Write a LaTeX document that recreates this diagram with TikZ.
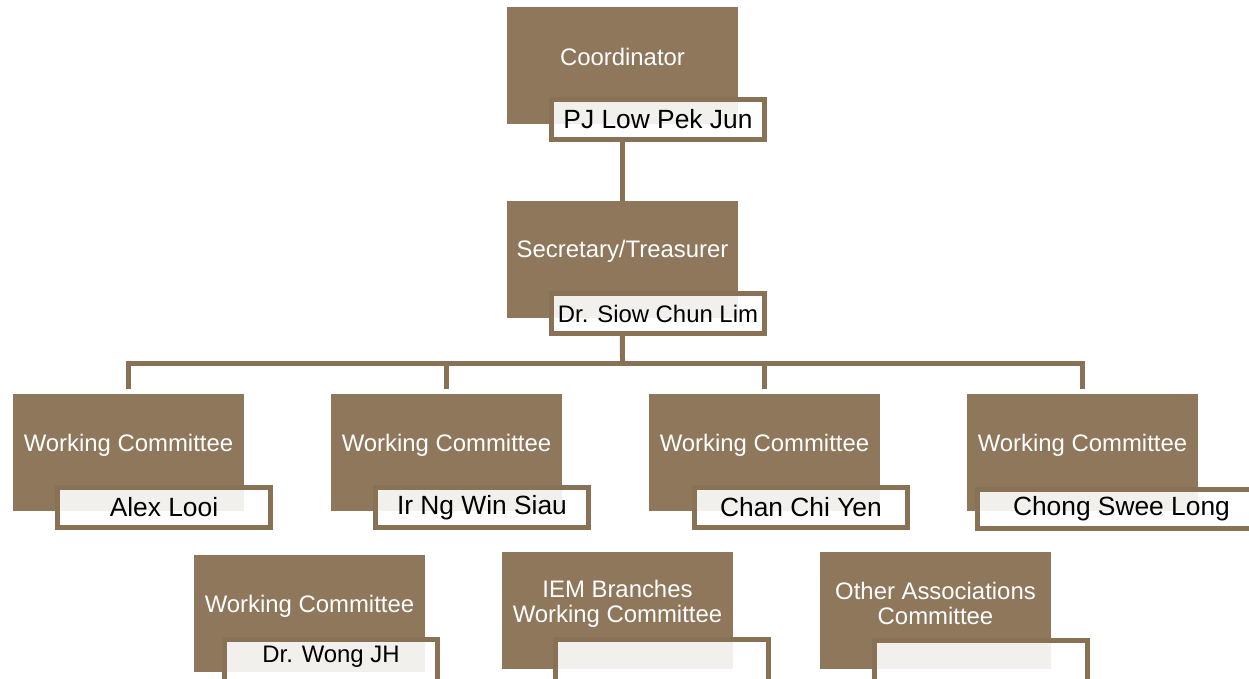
\documentclass[tikz,border=0pt]{standalone}
\usepackage{fontspec}
\setmainfont{Liberation Sans}

\definecolor{boxbrown}{RGB}{143,119,91}
\definecolor{linebrown}{RGB}{136,113,85}
\definecolor{paper}{RGB}{242,240,236}

\tikzset{
  unit/.style={fill=boxbrown, anchor=north west, minimum width=4.62cm, minimum height=2.34cm, inner sep=0, outer sep=0},
  head/.style={text=white, font=\fontsize{13.6}{14.2}\selectfont, align=center, inner sep=0},
  tag/.style={draw=linebrown, line width=0.1cm, fill=white, anchor=north west, minimum width=4.26cm, minimum height=0.8cm, inner sep=0, outer sep=0, font=\fontsize{15}{17}\selectfont,
    path picture={\fill[paper] (path picture bounding box.north west) rectangle (#1.south east);}},
  small/.style={font=\fontsize{13.6}{15}\selectfont},
  link/.style={draw=linebrown, line width=0.1cm},
}

\begin{document}
\begin{tikzpicture}[x=0.02cm, y=-0.02cm]
\useasboundingbox (0,0) rectangle (1249,679);

% top
\node[unit] at (507,7) (coord) {};
\node[head] at (622.5,57) (coordT) {Coordinator};
\node[tag=coord] at (551.5,99.5) (coordN) {PJ Low Pek Jun};

\node[unit] at (507,201) (sec) {};
\node[head] at (622.5,251) (secT) {Secretary/Treasurer};
\node[tag=sec, small] at (551.5,293.5) (secN) {Dr. Siow Chun Lim};

% working committees
\node[unit] at (13,394) (wc1) {};
\node[head] at (128.5,445) (wc1T) {Working Committee};
\node[tag=wc1] at (57.5,487.5) (wc1N) {Alex Looi};

\node[unit] at (331,394) (wc2) {};
\node[head] at (446.5,445) (wc2T) {Working Committee};
\node[tag=wc2] at (375.5,487.5) (wc2N) {Ir Ng Win Siau};

\node[unit] at (649,394) (wc3) {};
\node[head] at (764.5,445) (wc3T) {Working Committee};
\node[tag=wc3] at (694.5,487.5) (wc3N) {Chan Chi Yen};

\node[unit] at (967,394) (wc4) {};
\node[head] at (1082.5,445) (wc4T) {Working Committee};
\node[tag=wc4, minimum width=5.76cm] at (977.5,489) (wc4N) {Chong Swee Long};

% bottom row (cut off at the lower edge)
\node[unit] at (194,555) (wong) {};
\node[head] at (309.5,606) (wongT) {Working Committee};
\node[tag=wong, small, minimum height=0.9cm, text depth=8.5pt] at (224.5,639.5) (wongN) {Dr. Wong JH};

\node[unit] at (502,552) (iem) {};
\node[head] at (617.5,603.5) (iemT) {IEM Branches\\Working Committee};
\node[tag=iem, minimum height=0.9cm] at (555.5,639.5) (iemN) {};

\node[unit] at (820,552) (other) {};
\node[head] at (935.5,603.5) (otherT) {Other Associations\\Committee};
\node[tag=other, minimum height=0.9cm] at (874.5,640.5) (otherN) {};

% connectors
\coordinate (bus) at (622.5,363);
\draw[link] (coordN.south -| coord.north) -- (sec.north);
\draw[link] (secN.south -| sec.north) -- (bus);
\draw[link, shorten <=0.1cm, shorten >=0.1cm] (wc1.north) |- (bus -| wc4.north) -- (wc4.north);
\draw[link, shorten <=0.1cm] (wc2.north) -- (wc2.north |- bus);
\draw[link, shorten <=0.1cm] (wc3.north) -- (wc3.north |- bus);
\end{tikzpicture}
\end{document}
